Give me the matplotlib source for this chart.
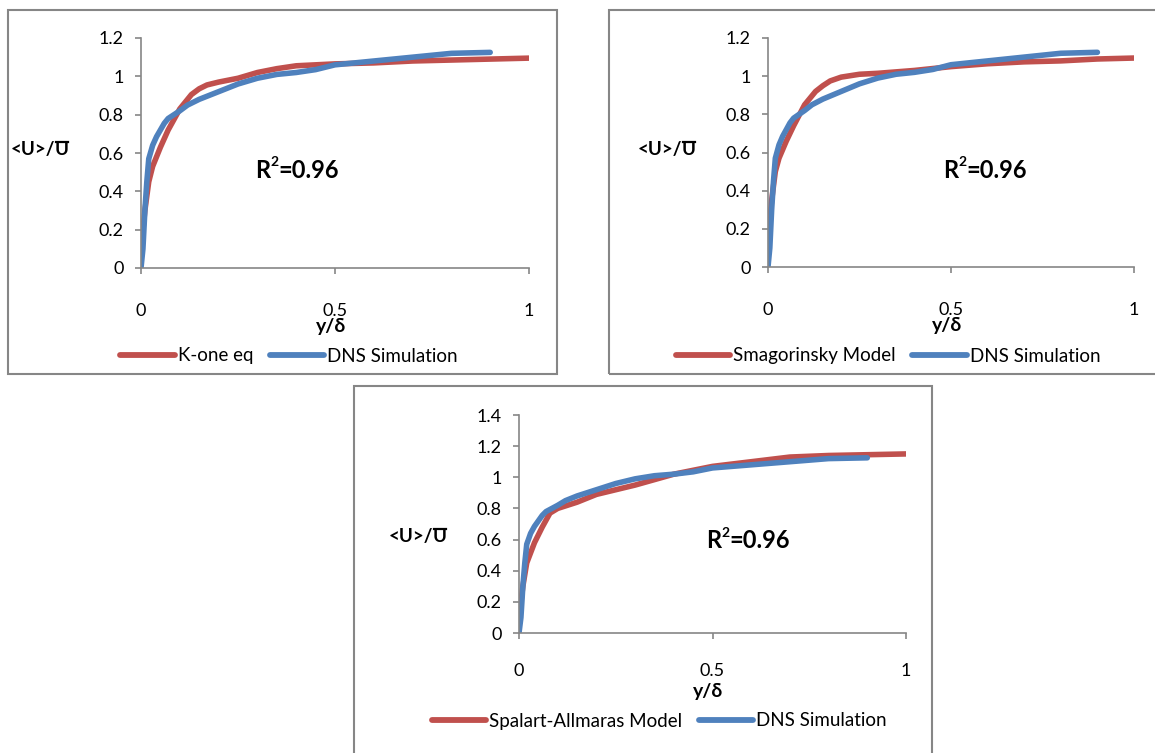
import matplotlib
matplotlib.use("Agg")
import matplotlib.pyplot as plt
from matplotlib.patches import Rectangle
from matplotlib.lines import Line2D

plt.rcParams["font.family"] = ["Lato", "DejaVu Sans"]

W, H = 1155, 753
RED = "#C0504D"
BLUE = "#4F81BD"
GRAY = "#868686"

# DNS reference profile (same in every panel)
dns_y = [0, 0.005, 0.01, 0.015, 0.02, 0.03, 0.04, 0.05, 0.06, 0.07, 0.085, 0.1,
         0.12, 0.15, 0.2, 0.25, 0.3, 0.35, 0.4, 0.45, 0.5, 0.6, 0.7, 0.8, 0.9]
dns_u = [0, 0.1, 0.3, 0.45, 0.57, 0.64, 0.685, 0.72, 0.755, 0.78, 0.80, 0.82,
         0.85, 0.88, 0.92, 0.96, 0.99, 1.01, 1.02, 1.035, 1.06, 1.08, 1.1, 1.12, 1.125]

# K-one equation model
kone_y = [0, 0.01, 0.02, 0.03, 0.05, 0.07, 0.1, 0.13, 0.15, 0.17, 0.2, 0.25, 0.3,
          0.35, 0.4, 0.5, 0.6, 0.7, 0.8, 0.9, 1.0]
kone_u = [0.1, 0.3, 0.45, 0.53, 0.63, 0.72, 0.83, 0.905, 0.935, 0.955, 0.97, 0.99,
          1.02, 1.04, 1.055, 1.065, 1.07, 1.08, 1.085, 1.09, 1.095]

# Smagorinsky model
smag_y = [0, 0.01, 0.02, 0.03, 0.05, 0.07, 0.1, 0.13, 0.15, 0.17, 0.2, 0.25, 0.3,
          0.4, 0.5, 0.6, 0.7, 0.8, 0.9, 1.0]
smag_u = [0.15, 0.35, 0.5, 0.57, 0.66, 0.74, 0.85, 0.92, 0.95, 0.975, 0.995, 1.01,
          1.015, 1.03, 1.05, 1.065, 1.075, 1.08, 1.09, 1.095]

# Spalart-Allmaras model
sa_y = [0, 0.01, 0.02, 0.04, 0.06, 0.08, 0.1, 0.15, 0.2, 0.3, 0.4, 0.5,
        0.6, 0.7, 0.8, 0.9, 1.0]
sa_u = [0.1, 0.3, 0.45, 0.58, 0.68, 0.77, 0.8, 0.84, 0.89, 0.95, 1.02, 1.07,
        1.1, 1.13, 1.14, 1.145, 1.15]

x_ticks = [0, 0.5, 1]
x_ticklabels = ["0", "0.5", "1"]

# panel layout in pixels: box, axes (left, top, right, bottom), y max, legend centre, R2 centre
panels = [
    dict(box=(8, 10, 557, 374), ax=(141, 38, 529, 268), ymax=1.2, xpad=21, xlab=58,
         model=(kone_y, kone_u, "K-one eq"), leg=(289, 356), r2=(297, 170)),
    dict(box=(609, 10, 1162, 374), ax=(768, 38, 1134, 267), ymax=1.2, xpad=21, xlab=58,
         model=(smag_y, smag_u, "Smagorinsky Model"), leg=(888, 356), r2=(985, 170)),
    dict(box=(354, 386, 932, 760), ax=(519, 415, 906, 633), ymax=1.4, xpad=17, xlab=59,
         model=(sa_y, sa_u, "Spalart-Allmaras Model"), leg=(659, 721), r2=(748, 541)),
]

fig = plt.figure(figsize=(W / 100, H / 100), dpi=100)
renderer = fig.canvas.get_renderer()


def fx(px):
    return px / W


def fy(py):
    return 1 - py / H


for p in panels:
    x0, y0, x1, y1 = p["box"]
    fig.patches.append(Rectangle((fx(x0), fy(y1)), fx(x1 - x0), (y1 - y0) / H,
                                 transform=fig.transFigure, fill=False,
                                 edgecolor=GRAY, linewidth=1.5))

    l, t, r, b = p["ax"]
    ax = fig.add_axes([fx(l), fy(b), fx(r - l), (b - t) / H])
    my, mu, mname = p["model"]
    ax.plot(my, mu, color=RED, linewidth=4.0, solid_capstyle="round",
            solid_joinstyle="round", label=mname)
    ax.plot(dns_y, dns_u, color=BLUE, linewidth=4.0, solid_capstyle="round",
            solid_joinstyle="round", label="DNS Simulation")

    ax.set_xlim(0, 1)
    ax.set_ylim(0, p["ymax"])
    ax.set_xticks(x_ticks)
    ax.set_xticklabels(x_ticklabels)
    yt = [round(0.2 * i, 1) for i in range(int(round(p["ymax"] / 0.2)) + 1)]
    ax.set_yticks(yt)
    ax.set_yticklabels([f"{v:g}" for v in yt])
    for s in ("top", "right"):
        ax.spines[s].set_visible(False)
    for s in ("left", "bottom"):
        ax.spines[s].set_color(GRAY)
        ax.spines[s].set_linewidth(1.2)
    ax.tick_params(axis="both", colors=GRAY, labelcolor="black", labelsize=13,
                   length=4.5, width=1.2, direction="out")
    ax.tick_params(axis="x", pad=p["xpad"])
    ax.tick_params(axis="y", pad=8)
    ax.patch.set_visible(False)

    # x label just under the 0.5 tick label
    xmid = (l + r) / 2
    fig.text(fx(xmid - 4), fy(b + p["xlab"]), "y/δ", ha="center", va="center",
             fontsize=14, fontweight="bold")

    # R squared annotation: "R", small raised "2", "=0.96"
    rx, ry = p["r2"]
    tr = fig.text(0, 0, "R", fontsize=17, fontweight="bold", va="center")
    ts = fig.text(0, 0, "2", fontsize=10, fontweight="bold", va="center")
    te = fig.text(0, 0, "=0.96", fontsize=17, fontweight="bold", va="center")
    wr = tr.get_window_extent(renderer).width
    ws = ts.get_window_extent(renderer).width
    we = te.get_window_extent(renderer).width
    start = rx - (wr + ws + we) / 2
    tr.set_position((fx(start), fy(ry)))
    ts.set_position((fx(start + wr), fy(ry - 8)))
    te.set_position((fx(start + wr + ws), fy(ry)))

    # y label "<U>/U" with overline on the last U
    ylab_y = fy(b - 0.6 * (b - t) / p["ymax"]) + 0.004
    xr = fx(l - 86)
    fig.text(xr, ylab_y, "<U>/", ha="right", va="center",
             fontsize=13.5, fontweight="bold")
    t2 = fig.text(xr, ylab_y, "U", ha="left", va="center",
                  fontsize=13.5, fontweight="bold")
    bb = t2.get_window_extent(renderer)
    ytop = (bb.y1 - 1) / H
    fig.add_artist(Line2D([bb.x0 / W + 0.001, bb.x1 / W - 0.001], [ytop, ytop],
                          transform=fig.transFigure, color="black", linewidth=1.6))

    fig.legend(handles=[
        Line2D([], [], color=RED, linewidth=4.2, solid_capstyle="round"),
        Line2D([], [], color=BLUE, linewidth=4.2, solid_capstyle="round")],
        labels=[mname, "DNS Simulation"], loc="center",
        bbox_to_anchor=(fx(p["leg"][0]), fy(p["leg"][1])), ncol=2,
        frameon=False, fontsize=13.5, handlelength=2.9, handletextpad=0.15,
        columnspacing=0.9, borderaxespad=0)

fig.savefig("out.png", dpi=100)
